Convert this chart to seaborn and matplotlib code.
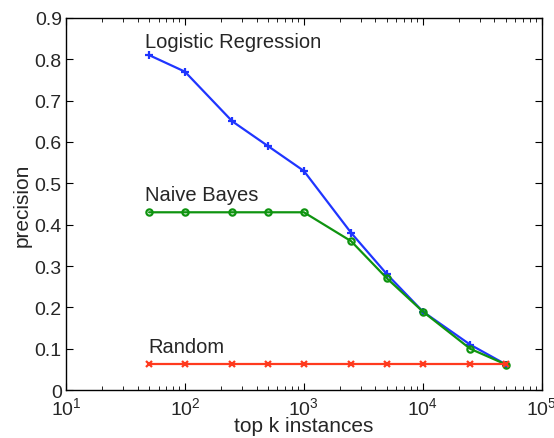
import matplotlib
matplotlib.use("Agg")
import matplotlib.pyplot as plt
import numpy as np
import pandas as pd
import seaborn as sns
from matplotlib.ticker import LogLocator, NullFormatter

top_k = [50, 100, 250, 500, 1000, 2500, 5000, 10000, 25000, 50000]
logistic_regression = [0.81, 0.77, 0.65, 0.59, 0.53, 0.38, 0.28, 0.19, 0.11, 0.062]
naive_bayes = [0.43, 0.43, 0.43, 0.43, 0.43, 0.36, 0.27, 0.19, 0.10, 0.062]
random_baseline = [0.063] * 10

series = [
    ("Logistic Regression", logistic_regression, "#1f35ff", "+", 6, (46, 0.83)),
    ("Naive Bayes", naive_bayes, "#0f9410", "o", 4.5, (46, 0.46)),
    ("Random", random_baseline, "#ff3a1e", "x", 4, (49, 0.092)),
]

sns.set_theme(style="ticks")
plt.rcParams["font.family"] = ["Liberation Sans", "DejaVu Sans"]

fig = plt.figure(figsize=(5.54, 4.39), dpi=100)
ax = fig.add_axes([0.119, 0.109, 0.859, 0.848])

for name, values, color, marker, size, label_pos in series:
    df = pd.DataFrame({"k": top_k, "precision": values})
    sns.lineplot(
        data=df, x="k", y="precision", ax=ax, color=color, linewidth=1.6,
        marker=marker, markersize=size,
        markerfacecolor="none" if marker == "o" else color,
        markeredgecolor=color, markeredgewidth=1.6,
    )
    ax.text(label_pos[0], label_pos[1], name, fontsize=14.5, va="baseline", ha="left")

ax.set_xscale("log")
ax.set_xlim(10, 1e5)
ax.set_ylim(0, 0.9)
ax.set_yticks(np.arange(0, 0.91, 0.1))
ax.set_yticklabels(["0", "0.1", "0.2", "0.3", "0.4", "0.5", "0.6", "0.7", "0.8", "0.9"])
ax.xaxis.set_minor_locator(LogLocator(base=10, subs=np.arange(2, 10), numticks=20))
ax.xaxis.set_minor_formatter(NullFormatter())
ax.tick_params(which="both", direction="in", top=True, right=True, labelsize=14, color="black")
ax.tick_params(which="major", length=5, width=0.8)
ax.tick_params(which="minor", length=3, width=0.6)
ax.tick_params(axis="x", pad=4)
ax.tick_params(axis="y", pad=3)
for spine in ax.spines.values():
    spine.set_color("black")
    spine.set_linewidth(1.0)
    spine.set_visible(True)

ax.set_xlabel("top k instances", fontsize=15, labelpad=-1)
ax.set_ylabel("precision", fontsize=15, labelpad=2)

fig.savefig("out.png", dpi=100)
